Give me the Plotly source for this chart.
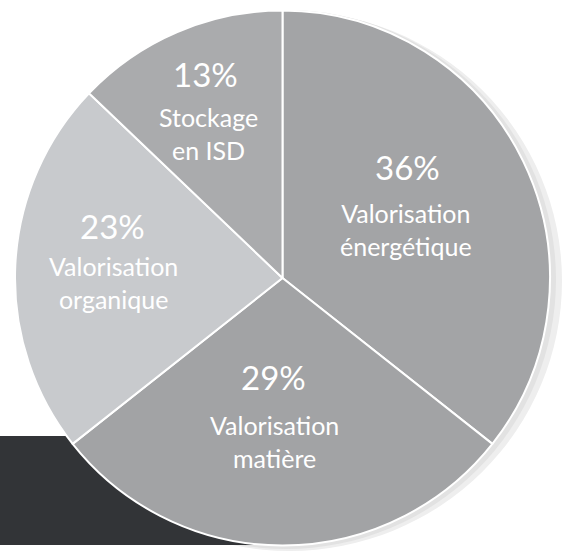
import plotly.graph_objects as go

# Data (clockwise from 12 o'clock)
categories = ["Valorisation<br>énergétique", "Valorisation<br>matière",
              "Valorisation<br>organique", "Stockage<br>en ISD"]
percent_values = [36, 29, 23, 13]

slice_colors = ["#a3a4a6", "#a2a3a5", "#c8cacd", "#aaabad"]

W, H = 571, 555

fig = go.Figure()

fig.add_trace(go.Pie(
    labels=categories,
    values=percent_values,
    sort=False,
    direction="clockwise",
    rotation=0,
    textinfo="none",
    hoverinfo="label+value",
    marker=dict(colors=slice_colors, line=dict(color="white", width=2)),
    domain=dict(x=[15 / W, 550 / W], y=[1 - 546 / H, 1 - 10 / H]),
    showlegend=False,
))

# label placement in pixels: (percentage centre, label block centre) per slice
label_pos = [
    [(407, 167), (406, 229)],
    [(273, 377), (274, 441)],
    [(112, 226), (114, 282)],
    [(205, 74), (208, 133)],
]

annotations = []
for cat, val, pos in zip(categories, percent_values, label_pos):
    for i, (txt, (px_, py_)) in enumerate(zip([f"{val}%", cat], pos)):
        annotations.append(dict(
            x=px_ / W, y=1 - py_ / H, xref="paper", yref="paper",
            text=txt, showarrow=False, xanchor="center", yanchor="middle",
            font=dict(family="Lato", size=33 if i == 0 else 25, color="white"),
        ))

shapes = [
    # soft shadow behind the pie
    dict(type="circle", xref="paper", yref="paper", layer="below",
         x0=17 / W, x1=562 / W, y0=1 - 551 / H, y1=1 - 11 / H,
         fillcolor="#eeeeee", line=dict(width=0)),
    dict(type="circle", xref="paper", yref="paper", layer="below",
         x0=16 / W, x1=556 / W, y0=1 - 549 / H, y1=1 - 10 / H,
         fillcolor="#e2e2e2", line=dict(width=0)),
    # dark band at lower left
    dict(type="rect", xref="paper", yref="paper", layer="below",
         x0=0, x1=0.5, y0=1 - 545 / H, y1=1 - 436 / H,
         fillcolor="#323437", line=dict(width=0)),
]

fig.update_layout(
    width=W, height=H,
    margin=dict(l=0, r=0, t=0, b=0),
    paper_bgcolor="white",
    plot_bgcolor="white",
    annotations=annotations,
    shapes=shapes,
)

fig.write_html("out.html", config={"displayModeBar": False},
               post_script="document.body.style.margin='0';")
